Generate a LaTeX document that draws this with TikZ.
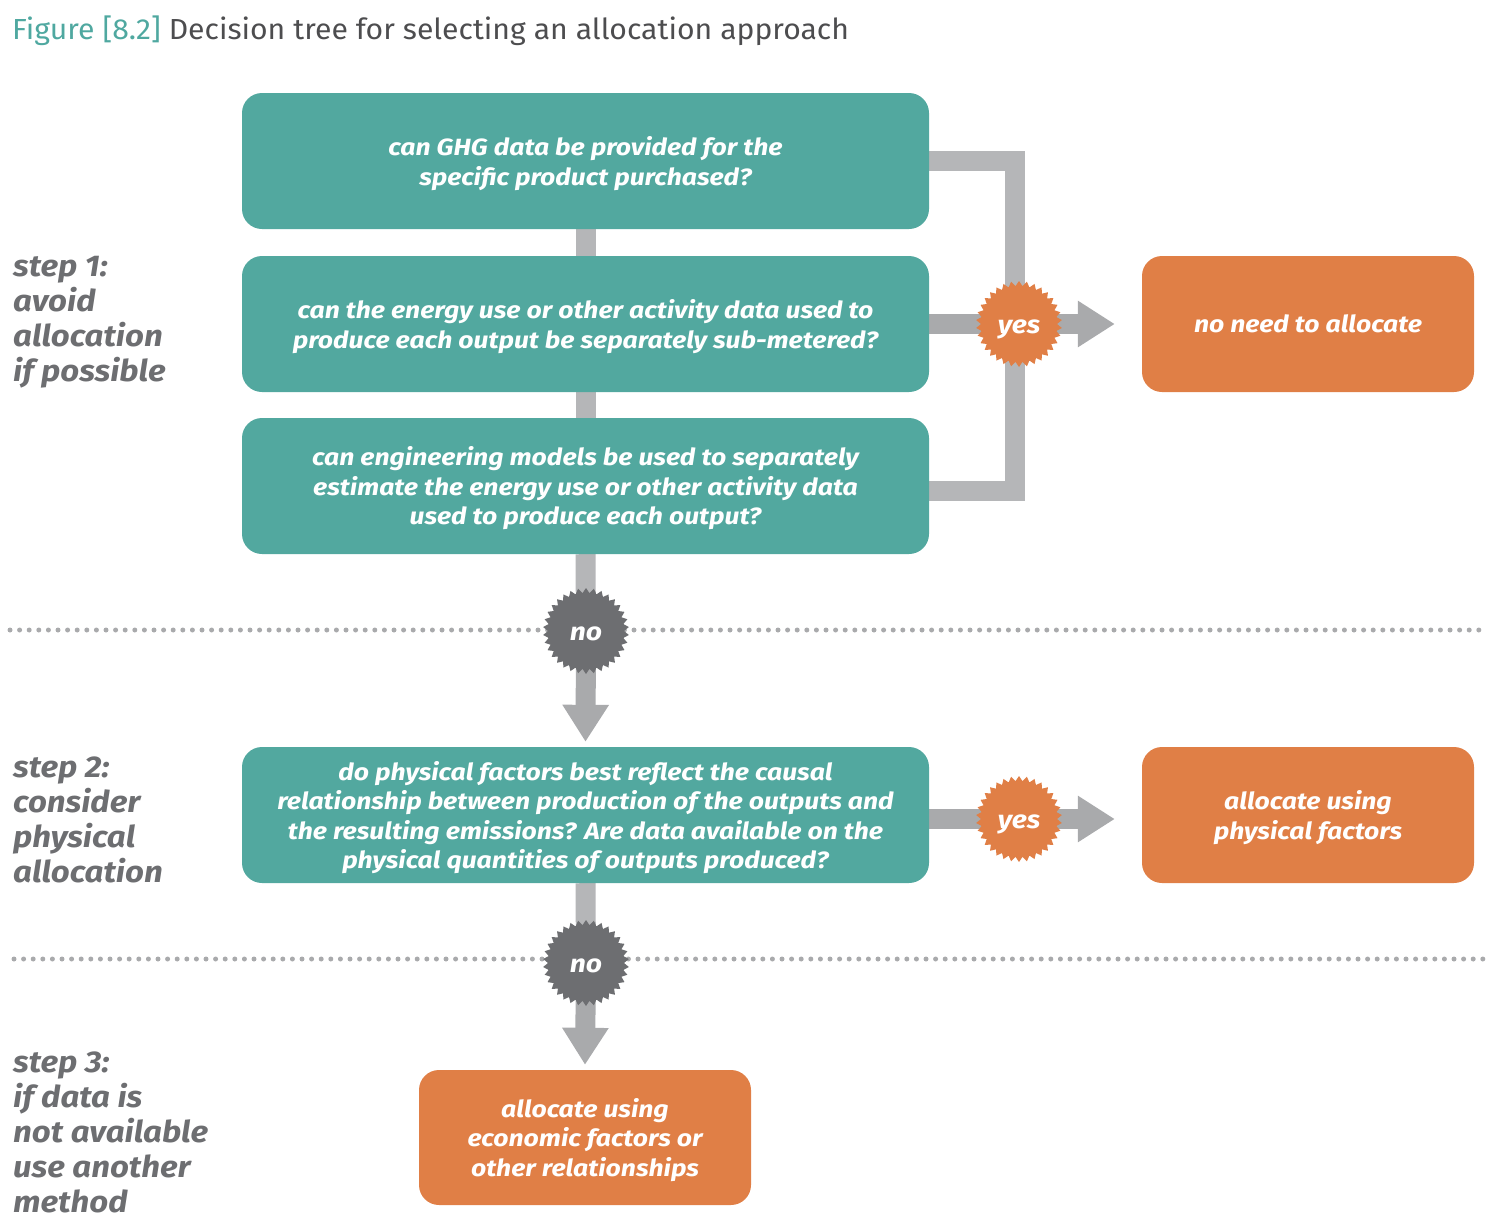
\documentclass[tikz,border=0pt]{standalone}
\usepackage{fontspec}
\setmainfont{Fira Sans}
\newfontfamily\widefont{Fira Sans}[FakeStretch=1.13]
\newfontfamily\stepfont{Fira Sans}[FakeStretch=1.1]
\newfontfamily\titlefont{Fira Sans}[FakeStretch=1.04]
\newcommand{\tstrut}{\rule{0pt}{24pt}}
\usetikzlibrary{shapes.symbols,arrows.meta,calc}
\definecolor{tealc}{HTML}{52A89F}
\definecolor{orangec}{HTML}{E07F46}
\definecolor{lgray}{HTML}{B5B6B8}
\definecolor{dgray}{HTML}{A9AAAC}
\definecolor{badgegray}{HTML}{6D6E71}
\definecolor{stepgray}{HTML}{6D6E71}
\definecolor{titlegray}{HTML}{4D4D4F}
\definecolor{titleteal}{HTML}{4FA8A0}
\pgfdeclarelayer{bg}
\pgfsetlayers{bg,main}
\begin{document}
\begin{tikzpicture}[x=1pt,y=-1pt,
  boxtext/.style={text=white, font=\widefont\fontsize{23.5}{29.5}\selectfont\bfseries\itshape, align=center, inner sep=0pt},
  qbox/.style={boxtext, fill=tealc, rounded corners=20pt, minimum width=687pt, minimum height=136pt},
  abox/.style={boxtext, fill=orangec, rounded corners=20pt, minimum width=332pt, minimum height=136pt},
  badge/.style={starburst, starburst points=34, starburst point height=5pt, random starburst=0, minimum size=86pt, inner sep=0pt, text height=18.5pt, text depth=0pt, text=white, font=\widefont\fontsize{25}{28}\selectfont\bfseries\itshape},
  yesbadge/.style={badge, fill=orangec},
  nobadge/.style={badge, fill=badgegray},
  lconn/.style={draw=lgray, line width=20pt},
  dconn/.style={draw=dgray, line width=20pt},
  tipconn/.style={dconn, -{Triangle[length=37pt,width=44pt]}},
  dotline/.style={draw=dgray, line width=5pt, line cap=round, dash pattern=on 0pt off 9.6pt},
  steplabel/.style={anchor=north west, align=left, text=stepgray, inner sep=0pt, font=\stepfont\fontsize{30}{35}\selectfont\bfseries\itshape}
]
\useasboundingbox (0,0) rectangle (1504,1226);

% title
\node[anchor=base west, inner sep=0pt, font=\titlefont\fontsize{29}{32}\selectfont] (title) at (12,39)
  {\textcolor{titleteal}{Figure [8.2]} \textcolor{titlegray}{Decision tree for selecting an allocation approach}};

% step labels
\node[steplabel] (s1) at (13,256) {step 1:\\avoid\\allocation\\if possible};
\node[steplabel] (s2) at (13,757) {step 2:\\consider\\physical\\allocation};
\node[steplabel] (s3) at (13,1052) {step 3:\\if data is\\not available\\use another\\method};

% question boxes
\node[qbox] (box1) at (585.5,161) {\tstrut can GHG data be provided for the\\specific product purchased?};
\node[qbox] (box2) at (585.5,324) {\tstrut can the energy use or other activity data used to\\produce each output be separately sub-metered?};
\node[qbox] (box3) at (585.5,486) {\tstrut can engineering models be used to separately\\estimate the energy use or other activity data\\used to produce each output?};
\node[qbox] (box4) at (585.5,815) {\tstrut do physical factors best reflect the causal\\relationship between production of the outputs and\\the resulting emissions? Are data available on the\\physical quantities of outputs produced?};

% answer boxes
\node[abox] (ora1) at (1308,324) {no need to allocate};
\node[abox] (ora2) at (1308,815) {\tstrut allocate using\\physical factors};
\node[abox, minimum height=135pt] (ora3) at (585,1137.5) {\tstrut allocate using\\economic factors or\\other relationships};

% badges
\node[yesbadge] (yes1) at (1019,324) {yes};
\node[yesbadge] (yes2) at (1019,819) {yes};
\node[nobadge] (no1) at (586,631) {no};
\node[nobadge] (no2) at (586,963) {no};

\begin{pgfonlayer}{bg}
  \draw[dotline] (10,630) -- (1480,630);
  \draw[dotline] (14,959) -- (1484,959);
  \draw[lconn] (box1.south) -- (box2.north);
  \draw[lconn] (box2.south) -- (box3.north);
  \draw[lconn] (box1.east) -- (1015,161) -- (1015,491) -- ($(box3.east)+(0,5)$);
  \draw[dconn] (box2.east) -- (yes1.center);
  \draw[tipconn] (yes1.center) -- ($(ora1.west |- yes1)+(-27,0)$);
  \draw[dconn] (box4.east |- yes2) -- (yes2.center);
  \draw[tipconn] (yes2.center) -- ($(ora2.west |- yes2)+(-27,0)$);
  \draw[lconn] (box3.south) -- (no1.center);
  \draw[tipconn] (no1.center) -- ($(box4.north)+(0,-5)$);
  \draw[lconn] (box4.south) -- (no2.center);
  \draw[tipconn] (no2.center) -- ($(ora3.north)+(0,-5)$);
\end{pgfonlayer}
\end{tikzpicture}
\end{document}
